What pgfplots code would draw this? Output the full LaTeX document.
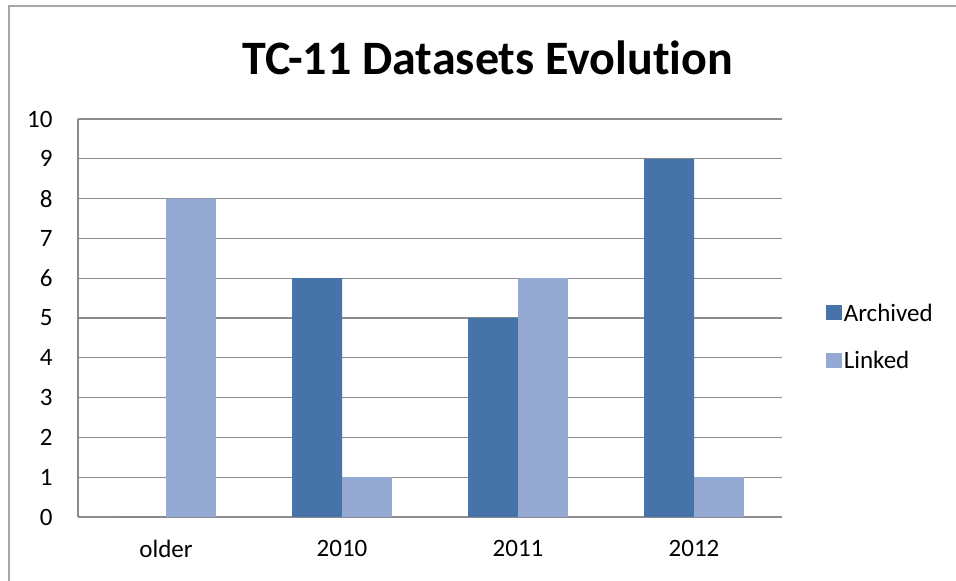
\documentclass[border=0pt]{standalone}
\usepackage{pgfplots}
\pgfplotsset{compat=1.18}
\usepackage{fontspec}
\setmainfont[RawFeature={-liga}]{Carlito}
\definecolor{arch}{HTML}{4673A8}
\definecolor{link}{HTML}{95AAD2}
\definecolor{gridc}{HTML}{8C8C8C}
\definecolor{framec}{HTML}{A6A6A6}
\begin{document}
\begin{tikzpicture}[x=1pt,y=1pt]
\path[use as bounding box] (0,0) rectangle (956,581);
\draw[framec,line width=1.5pt] (9,0) -- (9,575) -- (956,575);
\node[font=\fontsize{48}{52}\selectfont\bfseries] at (488,523) {TC-11 Datasets Evolution};
\begin{axis}[
  at={(78pt,64pt)}, anchor=south west,
  scale only axis, width=704pt, height=398pt,
  xmin=-0.5, xmax=3.5, ymin=0, ymax=10,
  ybar=0pt, bar width=0.284,
  xtick={0,1,2,3}, xticklabels={older,2010,2011,2012},
  ytick={0,1,...,10},
  axis x line*=bottom, axis y line*=left,
  axis line style={gridc, line width=1.2pt, -},
  major tick length=0pt,
  ymajorgrids, grid style={gridc, line width=1.2pt},
  /pgf/number format/assume math mode=true,
  tick label style={font=\fontsize{25}{28}\selectfont, text=black},
  yticklabel style={xshift=-22pt},
  xticklabel style={yshift=-20pt},
  legend style={draw=none, fill=none, at={(1.062,0.452)}, anchor=west,
    font=\fontsize{25}{28}\selectfont, row sep=25pt,
    legend cell align=left, inner sep=0pt},
  legend image code/.code={\fill[#1] (0pt,-7pt) rectangle (16pt,8pt);},
]
\addplot[fill=arch, draw=none] coordinates {(0,0) (1,6) (2,5) (3,9)};
\addplot[fill=link, draw=none] coordinates {(0,8) (1,1) (2,6) (3,1)};
\legend{Archived,Linked}
\end{axis}
\end{tikzpicture}
\end{document}
